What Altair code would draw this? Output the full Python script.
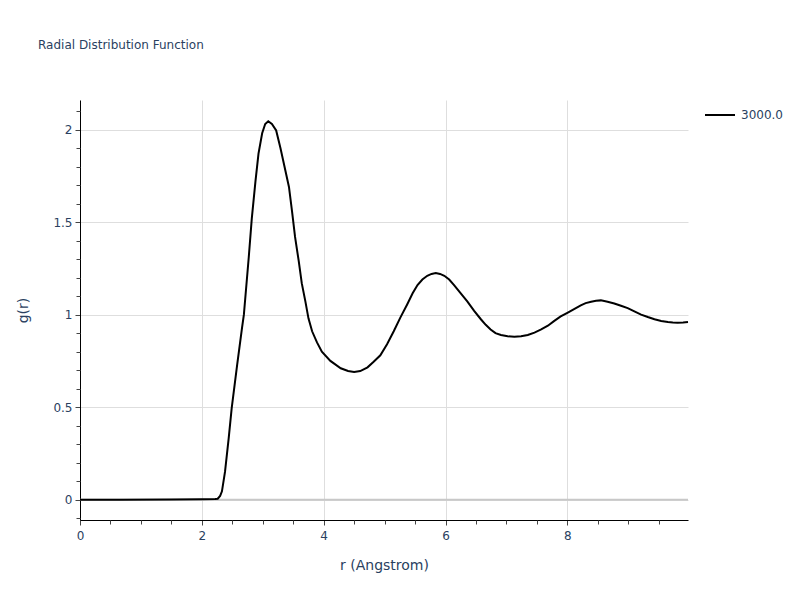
import altair as alt
import pandas as pd

r_vals = [0.00, 0.65, 1.50, 2.00, 2.22, 2.26, 2.30, 2.33, 2.38, 2.44,
          2.49, 2.58, 2.66, 2.69, 2.77, 2.82, 2.88, 2.93, 2.99, 3.04,
          3.09, 3.15, 3.22, 3.29, 3.37, 3.43, 3.48, 3.53, 3.59, 3.64,
          3.70, 3.75, 3.81, 3.89, 3.97, 4.11, 4.28, 4.40, 4.50, 4.60,
          4.72, 4.82, 4.93, 5.04, 5.15, 5.26, 5.37, 5.46, 5.54, 5.62,
          5.70, 5.77, 5.84, 5.91, 5.98, 6.06, 6.14, 6.25, 6.36, 6.47,
          6.58, 6.66, 6.74, 6.82, 6.91, 7.02, 7.13, 7.24, 7.35, 7.46,
          7.57, 7.68, 7.78, 7.89, 8.00, 8.11, 8.22, 8.30, 8.39, 8.47,
          8.55, 8.66, 8.77, 8.88, 8.99, 9.10, 9.21, 9.32, 9.43, 9.54,
          9.65, 9.73, 9.81, 9.90, 9.98]
g_vals = [0, 0, 0.001, 0.002, 0.003, 0.005, 0.02, 0.045, 0.15, 0.33,
          0.495, 0.73, 0.93, 1.00, 1.31, 1.52, 1.72, 1.87, 1.98, 2.03,
          2.045, 2.03, 1.995, 1.90, 1.78, 1.69, 1.56, 1.42, 1.29, 1.17,
          1.07, 0.98, 0.91, 0.85, 0.80, 0.75, 0.71, 0.695, 0.69, 0.695,
          0.715, 0.745, 0.78, 0.84, 0.91, 0.985, 1.055, 1.115, 1.16, 1.19,
          1.21, 1.22, 1.225, 1.22, 1.21, 1.19, 1.16, 1.115, 1.07, 1.02,
          0.975, 0.945, 0.92, 0.90, 0.89, 0.883, 0.88, 0.883, 0.89, 0.903,
          0.92, 0.94, 0.965, 0.99, 1.01, 1.03, 1.05, 1.062, 1.07, 1.075,
          1.077, 1.07, 1.06, 1.048, 1.035, 1.018, 1.0, 0.987, 0.975, 0.966,
          0.96, 0.957, 0.956, 0.957, 0.96]
series_name = "3000.0"

x_major = [0, 2, 4, 6, 8]
x_minor = [0.5, 1, 1.5, 2.5, 3, 3.5, 4.5, 5, 5.5, 6.5, 7, 7.5, 8.5, 9, 9.5]
y_major = [0, 0.5, 1, 1.5, 2]
y_minor = [-0.1, 0.1, 0.2, 0.3, 0.4, 0.6, 0.7, 0.8, 0.9, 1.1, 1.2, 1.3, 1.4,
           1.6, 1.7, 1.8, 1.9, 2.1]

df = pd.DataFrame({"r": r_vals, "g": g_vals, "series": series_name})
zero_df = pd.DataFrame({"z": [0]})

FONT = "DejaVu Sans"
TXT = "#2a3f5f"

xscale = alt.Scale(domain=[0, 9.98], nice=False, zero=False)
yscale = alt.Scale(domain=[-0.11, 2.16], nice=False, zero=False)

zero_line = alt.Chart(zero_df).mark_rule(color="#c8c8c8", strokeWidth=2).encode(
    y=alt.Y("z:Q", scale=yscale, axis=None)
)

line = alt.Chart(df).mark_line(strokeWidth=2).encode(
    x=alt.X("r:Q", scale=xscale, axis=alt.Axis(
        values=x_major, format="~g", title="r (Angstrom)", orient="bottom",
        titleFont=FONT, titleFontSize=14, titleFontWeight="normal", titleColor=TXT,
        titlePadding=17, labelFont=FONT, labelFontSize=12, labelColor=TXT,
        labelPadding=5, labelFlush=False, labelOverlap=False,
        tickSize=5, tickColor="#444444", domainColor="black", domainWidth=1,
        grid=True, gridColor="#dedede", gridWidth=1)),
    y=alt.Y("g:Q", scale=yscale, axis=alt.Axis(
        values=y_major, format="~g", title="g(r)", orient="left",
        titleFont=FONT, titleFontSize=14, titleFontWeight="normal", titleColor=TXT,
        titlePadding=22, labelFont=FONT, labelFontSize=12, labelColor=TXT,
        labelPadding=3, labelOverlap=False,
        tickSize=5, tickColor="#444444", domainColor="black", domainWidth=1,
        grid=True, gridColor="#dedede", gridWidth=1)),
    color=alt.Color("series:N", scale=alt.Scale(domain=[series_name], range=["black"]),
                    legend=alt.Legend(orient="none", legendX=624, legendY=-1, title=None,
                                      symbolType="stroke", symbolSize=900,
                                      symbolStrokeWidth=2, labelFont=FONT,
                                      labelFontSize=12, labelColor=TXT, labelOffset=5)),
)

minor = alt.Chart(df).mark_line(opacity=0).encode(
    x=alt.X("r:Q", scale=xscale, axis=alt.Axis(
        values=x_minor, labels=False, grid=False, domain=False, title=None,
        orient="bottom", tickSize=4, tickColor="#444444")),
    y=alt.Y("g:Q", scale=yscale, axis=alt.Axis(
        values=y_minor, labels=False, grid=False, domain=False, title=None,
        orient="left", tickSize=4, tickColor="#444444")),
)

chart = alt.layer(zero_line, line, minor).resolve_axis(
    x="independent", y="independent"
).properties(
    width=608,
    height=420,
    autosize=alt.AutoSizeParams(type="none"),
    padding={"left": 72, "top": 92, "right": 104, "bottom": 72},
    title=alt.TitleParams(text="Radial Distribution Function", anchor="start",
                          frame="group", dx=-42, offset=38, baseline="alphabetic",
                          font=FONT, fontSize=12, fontWeight="normal", color=TXT),
).configure_view(stroke=None)

chart.save("out.html", embed_options={"renderer": "svg", "actions": False})
